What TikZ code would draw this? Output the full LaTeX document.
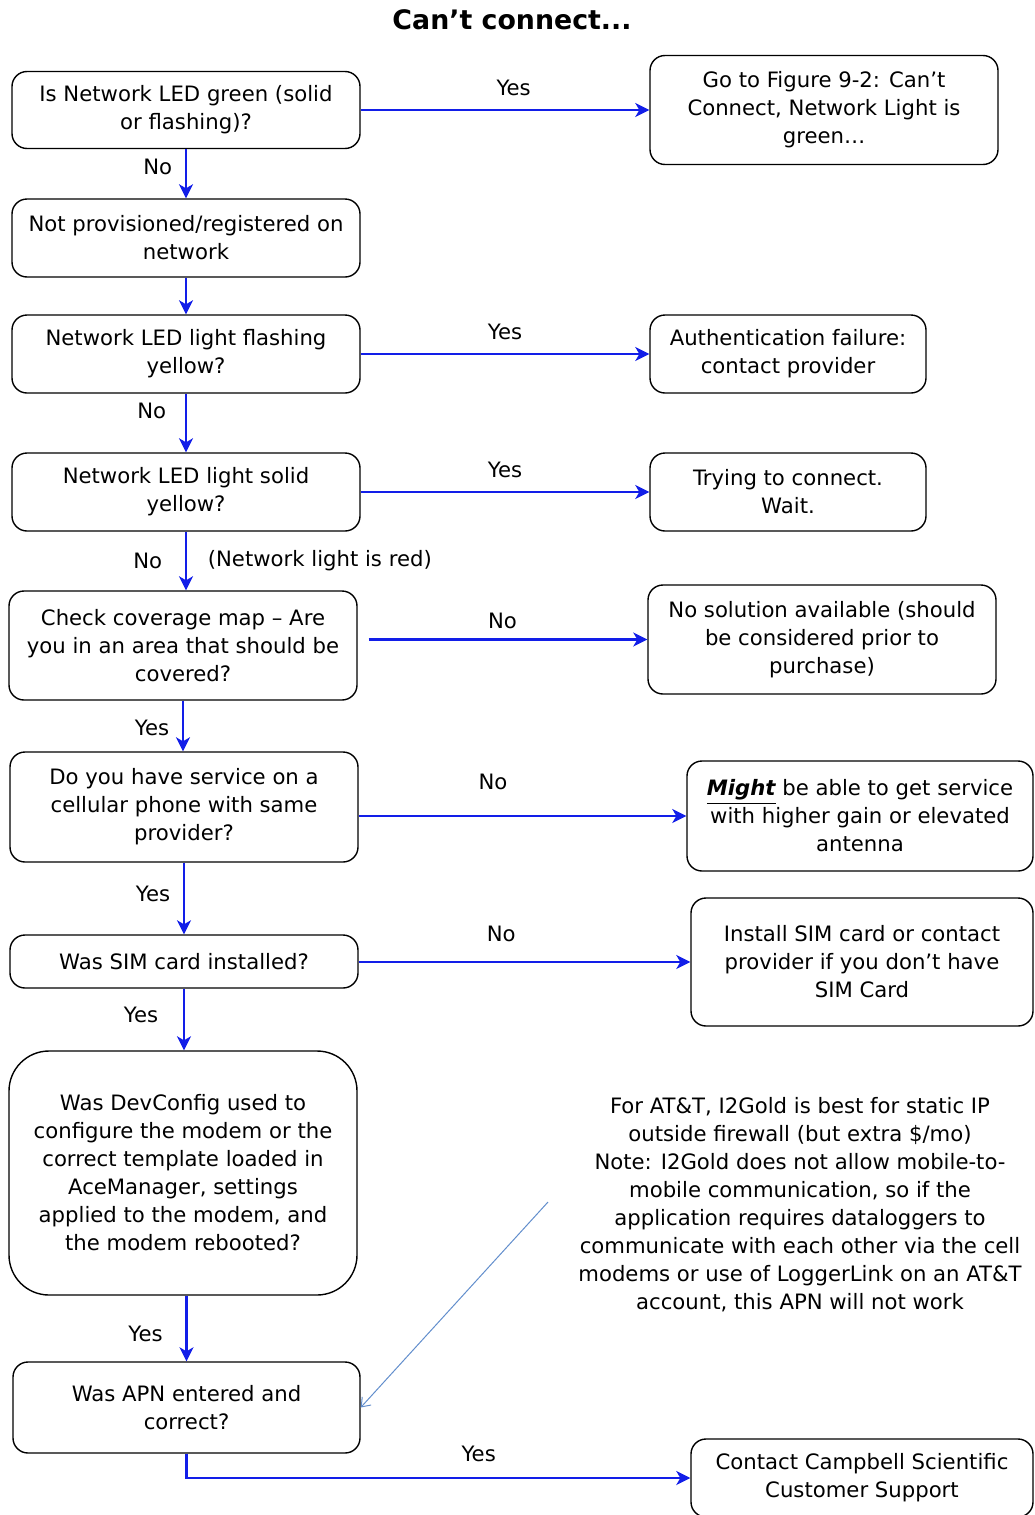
\documentclass[tikz,border=0pt]{standalone}
\usepackage{fontspec}
\setmainfont{DejaVu Sans}
\usepackage{xcolor}
\usepackage{tikz}
\usetikzlibrary{arrows.meta, positioning, calc}
\definecolor{flowblue}{RGB}{18, 30, 232}
\definecolor{noteblue}{RGB}{98, 142, 204}
\newcommand{\boxfont}{\fontsize{10.6}{14}\selectfont}

\begin{document}
\begin{tikzpicture}[x=0.5pt, y=-0.5pt,
    box/.style={draw, rounded corners=7.5pt, line width=0.7pt, align=center, inner sep=0pt, font=\boxfont},
    flow/.style={draw=flowblue, line width=1.2pt, -{Stealth[length=7pt, width=7pt, inset=2pt]}},
    lab/.style={font=\boxfont, inner sep=3.33pt}]
    \useasboundingbox (0,0) rectangle (1034,1515);

    % Title
    \node[font=\fontsize{13.4}{16}\selectfont\bfseries] (title) at (512,20) {Can’t connect...};

    % Left column: questions
    \node[box, minimum width=174pt, minimum height=38.5pt] (netgreen) at (186,110) {Is Network LED green (solid\\or flashing)?};
    \node[box, minimum width=174pt, minimum height=39pt] (notprov) at (186,238) {Not provisioned/registered on\\network};
    \node[box, minimum width=174pt, minimum height=39pt] (flashyel) at (186,354) {Network LED light flashing\\yellow?};
    \node[box, minimum width=174pt, minimum height=39pt] (solidyel) at (186,492) {Network LED light solid\\yellow?};
    \node[box, minimum width=174pt, minimum height=54.5pt] (cover) at (183,645.5) {Check coverage map -- Are\\you in an area that should be\\covered?};
    \node[box, minimum width=174pt, minimum height=55pt] (service) at (184,807) {Do you have service on a\\cellular phone with same\\provider?};
    \node[box, minimum width=174pt, minimum height=26.5pt] (siminst) at (184,961.5) {Was SIM card installed?};
    \node[box, rounded corners=20pt, minimum width=174pt, minimum height=122pt] (devcfg) at (183,1173) {Was DevConfig used to\\configure the modem or the\\correct template loaded in\\AceManager, settings\\applied to the modem, and\\the modem rebooted?};
    \node[box, minimum width=173.5pt, minimum height=45.5pt] (apn) at (186.5,1407.5) {Was APN entered and\\correct?};

    % Right column: outcomes
    \node[box, minimum width=174pt, minimum height=54.5pt] (gotofig) at (824,110) {Go to Figure 9-2: Can’t\\Connect, Network Light is\\green…};
    \node[box, minimum width=138pt, minimum height=39pt] (authfail) at (788,354) {Authentication failure:\\contact provider};
    \node[box, minimum width=138pt, minimum height=39pt] (trying) at (788,492) {Trying to connect.\\Wait.};
    \node[box, minimum width=174pt, minimum height=54.5pt] (nosol) at (822,639.5) {No solution available (should\\be considered prior to\\purchase)};
    \node[box, minimum width=173pt, minimum height=55pt] (might) at (860,816) {\textbf{\textit{\underline{Might}}} be able to get service\\with higher gain or elevated\\antenna};
    \node[box, minimum width=171pt, minimum height=64pt] (installsim) at (862,962) {Install SIM card or contact\\provider if you don’t have\\SIM Card};
    \node[box, minimum width=171pt, minimum height=39pt] (support) at (862,1478) {Contact Campbell Scientific\\Customer Support};

    % APN note
    \node[align=center, font=\boxfont, inner sep=0pt] (apnnote) at (800,1205) {For AT\&T, I2Gold is best for static IP\\outside firewall (but extra \$/mo)\\Note: I2Gold does not allow mobile-to-\\mobile communication, so if the\\application requires dataloggers to\\communicate with each other via the cell\\modems or use of LoggerLink on an AT\&T\\account, this APN will not work};
    \coordinate (notetip) at (548,1202);

    % Yes branches
    \draw[flow] (netgreen) -- node[lab, above=3pt, pos=0.53] (y1) {Yes} (gotofig);
    \draw[flow] (flashyel) -- node[lab, above=3pt] (y2) {Yes} (authfail);
    \draw[flow] (solidyel) -- node[lab, above=3pt] (y3) {Yes} (trying);

    % No / Yes down the left column
    \draw[flow] (netgreen) -- node[lab, left=3pt, pos=0.36] (n1) {No} (notprov);
    \draw[flow] (notprov) -- (flashyel);
    \draw[flow] (flashyel) -- node[lab, left=6pt, pos=0.3] (n2) {No} (solidyel);
    \draw[flow] (solidyel.south) -- node[lab, left=8pt] (n3) {No} node[lab, right=7pt] (red) {(Network light is red)} (solidyel.south |- cover.north);
    \draw[flow] (cover.south) -- node[lab, left=3pt, pos=0.54] (y4) {Yes} (cover.south |- service.north);
    \draw[flow] (service.south) -- node[lab, left=3pt, pos=0.44] (y5) {Yes} (service.south |- siminst.north);
    \draw[flow] (siminst.south) -- node[lab, left=9pt, pos=0.42] (y6) {Yes} (siminst.south |- devcfg.north);
    \draw[flow] (apn.north |- devcfg.south) -- node[lab, left=8pt, pos=0.58] (y7) {Yes} (apn.north);

    % No branches to the right
    \draw[flow, shorten <=5.5pt] (cover.east |- nosol.west) -- node[lab, above=1.5pt] (n4) {No} (nosol.west);
    \draw[flow] (service.east |- might.west) -- node[lab, above=9pt, pos=0.41] (n5) {No} (might.west);
    \draw[flow] (siminst.east |- installsim.west) -- node[lab, above=6pt, pos=0.43] (n6) {No} (installsim.west);
    \draw[flow] (apn.south) |- node[lab, above=4pt, pos=0.79] (y8) {Yes} (support.west);

    % note pointer
    \draw[noteblue, line width=0.5pt, -{Straight Barb[length=4pt, width=6pt]}] (notetip) -- (apn.east);
\end{tikzpicture}
\end{document}
